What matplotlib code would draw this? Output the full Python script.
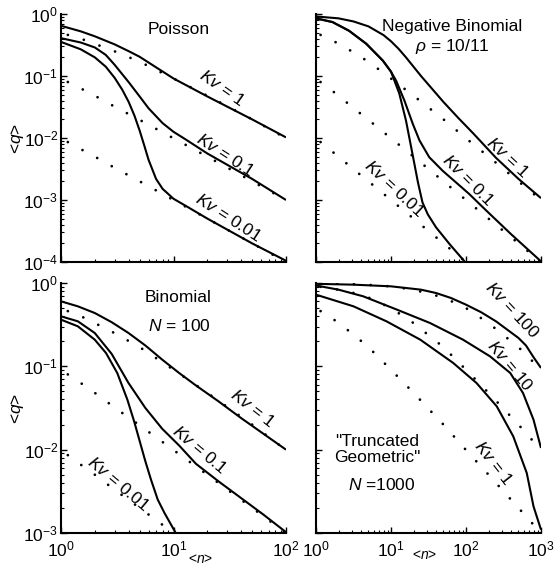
import numpy as np
import matplotlib
matplotlib.use('Agg')
import matplotlib.pyplot as plt

plt.rcParams['font.family'] = ['Liberation Sans', 'DejaVu Sans']
plt.rcParams['mathtext.fontset'] = 'custom'
plt.rcParams['mathtext.rm'] = 'Liberation Sans'
plt.rcParams['mathtext.it'] = 'Liberation Sans:italic'
plt.rcParams['font.size'] = 12.5

#------------------------------------------------------------------------------
# dotted reference curves (same in every panel)
dot_n = [1.15, 1.5, 2, 3, 5, 10, 20, 50, 100, 200, 500, 1000]
dot_kv100 = [0.99, 0.985, 0.98, 0.97, 0.95, 0.91, 0.83, 0.67, 0.5, 0.33, 0.17, 0.091]
dot_kv10 = [0.9, 0.87, 0.83, 0.77, 0.67, 0.5, 0.33, 0.17, 0.091, 0.048, 0.02, 0.0099]
dot_kv1 = [0.46, 0.40, 0.33, 0.25, 0.17, 0.091, 0.048, 0.02, 0.0099, 0.005, 0.002, 0.001]
dot_kv01 = [0.08, 0.063, 0.048, 0.032, 0.0196, 0.0099, 0.005, 0.002, 0.001, 0.0005, 0.0002, 0.0001]
dot_kv001 = [0.0086, 0.0066, 0.005, 0.0033, 0.002, 0.001, 0.0005, 0.0002, 0.0001, 5e-5, 2e-5, 1e-5]

#------------------------------------------------------------------------------
# solid curves, stored as log10(<n>) and log10(<q>)
# Poisson
poi_kv1_x = [0, .176, .301, .477, .602, .699, .845, 1.0, 1.301, 1.699, 2.0]
poi_kv1_y = [-0.19, -0.28, -0.36, -0.49, -0.6, -0.69, -0.86, -1.04, -1.33, -1.7, -1.99]
poi_kv01_x = [0, .176, .301, .398, .477, .602, .699, .778, .903, 1.0, 1.114, 1.301, 1.699, 2.0]
poi_kv01_y = [-0.39, -0.46, -0.54, -0.66, -0.82, -1.1, -1.33, -1.52, -1.76, -1.9, -2.03, -2.25, -2.66, -3.0]
poi_kv001_x = [0, .176, .301, .398, .477, .544, .602, .653, .699, .740, .778, .845, .903,
               1.0, 1.114, 1.301, 1.699, 2.0]
poi_kv001_y = [-0.45, -0.57, -0.70, -0.85, -1.03, -1.22, -1.42, -1.64, -1.88, -2.12, -2.35,
               -2.66, -2.82, -2.98, -3.10, -3.3, -3.7, -3.98]

# Negative binomial
nb_kv1_x = [0, .3, .5, .7, .9, 1.0, 1.1, 1.2, 1.3, 1.4, 1.5, 1.7, 1.9, 2.1, 2.4, 2.7, 3.0]
nb_kv1_y = [-0.04, -0.07, -0.12, -0.2, -0.34, -0.44, -0.56, -0.7, -0.85, -1.0, -1.14,
            -1.42, -1.68, -1.93, -2.32, -2.66, -2.97]
nb_kv01_x = [0, .22, .44, .67, .89, 1.0, 1.07, 1.18, 1.29, 1.38, 1.51, 1.69, 1.87, 2.04,
             2.27, 2.6, 3.0]
nb_kv01_y = [-0.07, -0.13, -0.27, -0.48, -0.75, -0.93, -1.08, -1.40, -1.77, -2.04, -2.31,
             -2.53, -2.72, -2.90, -3.17, -3.55, -3.99]
nb_kv001_x = [0, .22, .44, .67, .89, 1.0, 1.11, 1.2, 1.29, 1.36, 1.42, 1.49, 1.6, 1.78, 1.98]
nb_kv001_y = [-0.07, -0.13, -0.27, -0.48, -0.75, -0.93, -1.28, -1.72, -2.28, -2.72, -3.04,
              -3.23, -3.44, -3.71, -3.99]

# Binomial, N = 100
bi_kv1_x = [0, .15, .3, .45, .6, .75, .9, 1.05, 1.2, 1.4, 1.6, 1.8, 2.0]
bi_kv1_y = [-0.22, -0.28, -0.36, -0.47, -0.6, -0.75, -0.92, -1.08, -1.23, -1.42, -1.62, -1.81, -2.0]
bi_kv01_x = [0, .15, .3, .45, .6, .75, .9, 1.05, 1.2, 1.4, 1.6, 1.8, 2.0]
bi_kv01_y = [-0.40, -0.46, -0.60, -0.85, -1.2, -1.5, -1.75, -1.95, -2.17, -2.38, -2.58, -2.78, -2.99]
bi_kv001_x = [0, .15, .3, .4, .5, .59, .65, .7, .75, .8, .86, .92, .97, 1.02, 1.06]
bi_kv001_y = [-0.44, -0.52, -0.68, -0.84, -1.08, -1.4, -1.66, -1.9, -2.14, -2.36, -2.6,
              -2.76, -2.88, -3.0, -3.1]

# Truncated geometric, N = 1000
tg_kv100_x = [0, .5, 1.0, 1.4, 1.6, 1.8, 2.0, 2.2, 2.4, 2.55, 2.7, 2.8, 2.9, 3.0]
tg_kv100_y = [-0.01, -0.02, -0.04, -0.08, -0.12, -0.18, -0.26, -0.35, -0.46, -0.56, -0.66,
              -0.75, -0.89, -1.02]
tg_kv10_x = [0, .3, .63, 1.08, 1.52, 1.96, 2.32, 2.59, 2.76, 2.9, 3.0]
tg_kv10_y = [-0.03, -0.08, -0.16, -0.32, -0.48, -0.68, -0.88, -1.08, -1.32, -1.64, -1.98]
tg_kv1_x = [0, .5, .94, 1.39, 1.83, 2.14, 2.41, 2.63, 2.81, 2.9, 3.0]
tg_kv1_y = [-0.14, -0.28, -0.46, -0.68, -0.96, -1.2, -1.48, -1.84, -2.28, -2.68, -2.96]

#------------------------------------------------------------------------------
W, H = 556, 568
fig = plt.figure(figsize=(W / 100, H / 100), dpi=100)


def make_axes(x0, y0, x1, y1):
    return fig.add_axes([x0 / W, 1 - y1 / H, (x1 - x0) / W, (y1 - y0) / H])


def style(ax, xmax, ymin, xlabels, ylabels):
    ax.set_xscale('log')
    ax.set_yscale('log')
    ax.set_xlim(1, xmax)
    ax.set_ylim(ymin, 1)
    ax.spines['top'].set_visible(False)
    ax.spines['right'].set_visible(False)
    for s in ['left', 'bottom']:
        ax.spines[s].set_linewidth(1.5)
    ax.tick_params(which='major', direction='in', length=4, width=1, pad=2)
    ax.tick_params(which='minor', direction='in', length=2, width=0.8)
    ax.tick_params(axis='x', pad=5)
    ax.tick_params(labelbottom=xlabels, labelleft=ylabels)


def solid(ax, lx, ly):
    ax.plot(np.power(10.0, lx), np.power(10.0, ly), color='black', lw=1.5,
            solid_capstyle='butt')


def dotted(ax, q):
    ax.plot(dot_n, q, color='black', lw=2.0, ls=(0, (0.01, 6.0)),
            dash_capstyle='round')


def label(x, y, s, rot=0, **kw):
    # x, y in figure pixels from top-left
    fig.text(x / W, 1 - y / H, s, rotation=rot, ha='center', va='center',
             rotation_mode='anchor', **kw)


# Poisson
ax1 = make_axes(61, 14, 286, 262)
style(ax1, 100, 1e-4, False, True)
for q in [dot_kv1, dot_kv01, dot_kv001]:
    dotted(ax1, q)
solid(ax1, poi_kv1_x, poi_kv1_y)
solid(ax1, poi_kv01_x, poi_kv01_y)
solid(ax1, poi_kv001_x, poi_kv001_y)
ax1.set_ylabel('<$q$>', labelpad=-2)
label(179, 30, 'Poisson')
label(222, 88, '$Kv$ = 1', -35)
label(225, 155, '$Kv$ = 0.1', -33)
label(228, 218, '$Kv$ = 0.01', -33)

# Negative binomial
ax2 = make_axes(316, 14, 541, 262)
style(ax2, 1000, 1e-4, False, False)
for q in [dot_kv1, dot_kv01, dot_kv001]:
    dotted(ax2, q)
solid(ax2, nb_kv1_x, nb_kv1_y)
solid(ax2, nb_kv01_x, nb_kv01_y)
solid(ax2, nb_kv001_x, nb_kv001_y)
label(452, 26, 'Negative Binomial')
label(452, 46, r'$\rho$ = 10/11')
label(507, 157, '$Kv$ = 1', -43)
label(468, 180, '$Kv$ = 0.1', -45)
label(394, 188, '$Kv$ = 0.01', -43)

# Binomial
ax3 = make_axes(61, 283, 286, 533)
style(ax3, 100, 1e-3, True, True)
for q in [dot_kv1, dot_kv01, dot_kv001]:
    dotted(ax3, q)
solid(ax3, bi_kv1_x, bi_kv1_y)
solid(ax3, bi_kv01_x, bi_kv01_y)
solid(ax3, bi_kv001_x, bi_kv001_y)
ax3.set_ylabel('<$q$>', labelpad=-2)
ax3.set_xlabel('<$n$>', fontsize=10)
ax3.xaxis.set_label_coords(0.62, -0.076)
label(178, 297, 'Binomial')
label(179, 326, '$N$ = 100')
label(252, 408, '$Kv$ = 1', -38)
label(200, 450, '$Kv$ = 0.1', -40)
label(118, 484, '$Kv$ = 0.01', -40)

# Truncated geometric
ax4 = make_axes(316, 283, 541, 533)
style(ax4, 1000, 1e-3, True, False)
for q in [dot_kv100, dot_kv10, dot_kv1]:
    dotted(ax4, q)
solid(ax4, tg_kv100_x, tg_kv100_y)
solid(ax4, tg_kv10_x, tg_kv10_y)
solid(ax4, tg_kv1_x, tg_kv1_y)
ax4.set_xlabel('<$n$>', fontsize=10)
ax4.xaxis.set_label_coords(0.484, -0.06)
label(512, 310, '$Kv$ = 100', -47)
label(510, 366, '$Kv$ = 10', -50)
label(493, 463, '$Kv$ = 1', -52)
label(377, 442, '"Truncated')
label(377, 458, 'Geometric"')
label(382, 485, '$N$ =1000')

fig.savefig('out.png', dpi=100)
